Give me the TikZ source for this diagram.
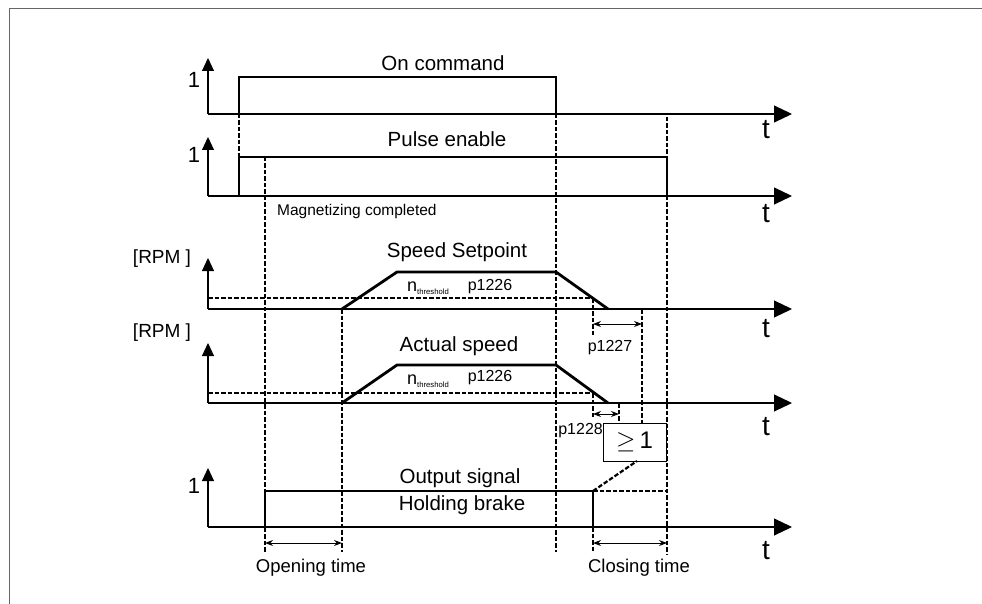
\documentclass[tikz,border=0pt]{standalone}
\usepackage{fontspec}
\setmainfont{Liberation Sans}
\usetikzlibrary{arrows.meta}
\begin{document}
\begin{tikzpicture}[x=1pt,y=-1pt,
  sig/.style={line width=2.8pt,line join=miter},
  ax/.style={line width=1.1pt,black},
  dsh/.style={line width=2.2pt,dash pattern=on 4.5pt off 2pt},
  haxis/.style={ax,-{Triangle[length=18pt,width=17pt]}},
  vaxis/.style={ax,-{Triangle[length=13pt,width=12pt]}},
  dimarr/.style={line width=1pt,{Stealth[length=8pt,width=6pt]}-{Stealth[length=8pt,width=6pt]}},
  big/.style={font=\fontsize{20.5}{24}\selectfont,inner sep=0pt},
  mid/.style={font=\fontsize{16}{19}\selectfont,inner sep=0pt},
  tlab/.style={font=\fontsize{28}{32}\selectfont,inner sep=0pt},
  one/.style={font=\fontsize{22}{26}\selectfont,inner sep=0pt},
  rpm/.style={font=\fontsize{19}{22}\selectfont,inner sep=0pt},
  tim/.style={font=\fontsize{18.5}{22}\selectfont,inner sep=0pt}
]
\useasboundingbox (0,0) rectangle (982,604);
% frame
\draw[black!60,line width=1.5pt] (9.5,604) -- (9.5,8.5) -- (982,8.5);

% ---------- axes ----------
\foreach \b/\tip/\tl [count=\i] in {114/58/130, 196/137/214, 309/258/329, 403/343/427, 527/468/551}{
  \coordinate (o\i) at (208,\b);
  \coordinate (v\i) at (208,\tip);
  \coordinate (h\i) at (792,\b);
  \draw[haxis] (o\i) -- (h\i);
  \draw[vaxis] (o\i) -- (v\i);
  \node[tlab] (t\i) at (766,\tl) {t};
}
\node[one] (one1) at (194,80) {1};
\node[one] (one2) at (194,155) {1};
\node[one] (one5) at (194,486) {1};
\node[rpm] (rpm3) at (162,259) {[RPM ]};
\node[rpm] (rpm4) at (162,333) {[RPM ]};

% ---------- dashed verticals ----------
\draw[dsh] (239,114) -- (239,196);
\draw[dsh] (265,157) -- (265,552);
\draw[dsh] (556,114) -- (556,552);
\draw[dsh] (667,117) -- (667,157);
\draw[dsh] (667,196) -- (667,555);
\draw[dsh] (342,309) -- (342,552);
\draw[dsh] (593,298) -- (593,335);
\draw[dsh] (593,393) -- (593,417);
\draw[dsh] (593,527) -- (593,552);
\draw[dsh] (642,309) -- (642,423);
\draw[dsh] (619,403) -- (619,423);

% threshold lines
\draw[dsh] (208,298) -- (593,298);
\draw[dsh] (208,393) -- (593,393);

% ---------- signals ----------
\draw[sig] (239,114) -- (239,77) -- (556,77) -- (556,114);
\draw[sig] (239,196) -- (239,157) -- (667,157) -- (667,196);
\draw[sig] (342,309) -- (397,272) -- (556,272) -- (608,309);
\draw[sig] (342,403) -- (397,365) -- (556,365) -- (608,403);
\draw[sig] (265,527) -- (265,491) -- (593,491) -- (593,527);

% ---------- labels ----------
\node[big] (lon) at (443,63) {On command};
\node[big] (lpe) at (447,139) {Pulse enable};
\node[font=\fontsize{15.5}{18}\selectfont,inner sep=0pt,anchor=west] (lmag) at (277,211) {Magnetizing completed};
\node[big] (lss) at (457,252) {Speed Setpoint};
\node[big] (las) at (459,346) {Actual speed};
\node[inner sep=0pt,anchor=west] (nth3) at (407,288) {\fontsize{18}{20}\selectfont n\raisebox{-2.5pt}{\fontsize{7.7}{9}\selectfont threshold}};
\node[inner sep=0pt,anchor=west] (nth4) at (407,381) {\fontsize{18}{20}\selectfont n\raisebox{-2.5pt}{\fontsize{7.7}{9}\selectfont threshold}};
\node[mid] (p1226a) at (490,287) {p1226};
\node[mid] (p1226b) at (490,378) {p1226};
\node[mid] (p1227) at (610,348) {p1227};
\node[mid,anchor=east] (p1228) at (603,431) {p1228};
\node[big] (los) at (460,478) {Output signal};
\node[big] (lhb) at (462,505) {Holding brake};
\node[tim] (lot) at (311,568) {Opening time};
\node[tim] (lct) at (639,568) {Closing time};

% OR box
\node[draw,line width=0.9pt,minimum width=63pt,minimum height=38pt,inner sep=0pt,
      font=\fontsize{24}{28}\selectfont] (orbox) at (634.5,442) {$\geq$\,1};
\coordinate (brk) at (593,491);
\draw[dsh] (brk) -- (637,461);
\draw[dsh] (brk) -- (667,491);

% ---------- dimension arrows ----------
\draw[dimarr] (593,324) -- (642,324);
\draw[dimarr] (593,414) -- (619,414);
\draw[dimarr] (265,543) -- (342,543);
\draw[dimarr] (593,543) -- (667,543);
\end{tikzpicture}
\end{document}
